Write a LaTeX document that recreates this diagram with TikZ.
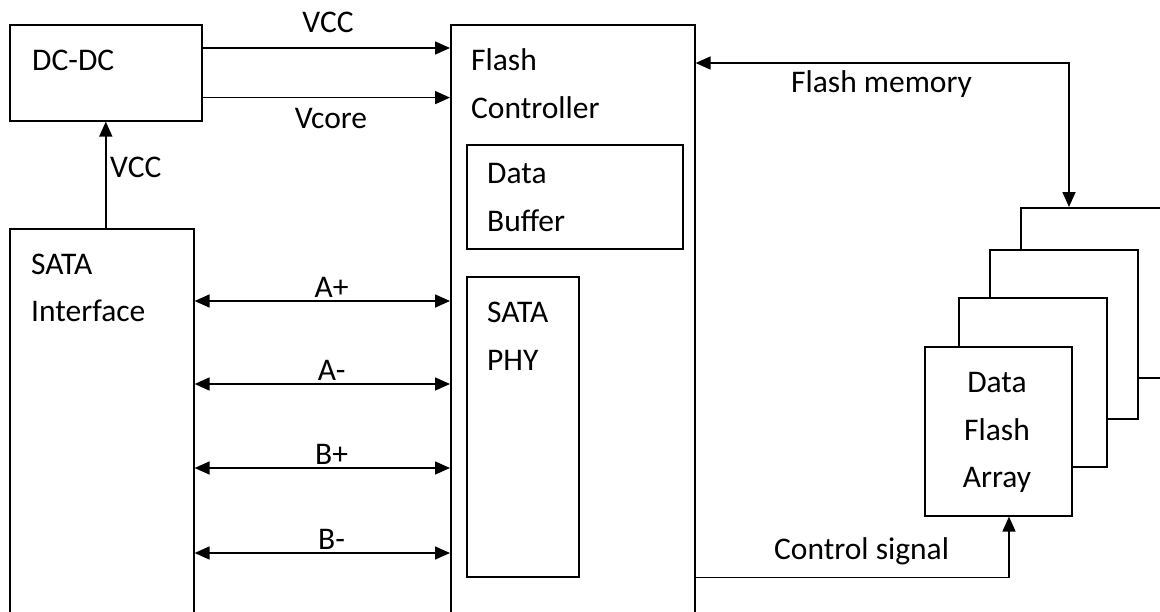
\documentclass[tikz,border=0pt]{standalone}
\usepackage{fontspec}
\setmainfont{Carlito}
\usetikzlibrary{arrows.meta,calc}
\begin{document}
\begin{tikzpicture}[x=1pt,y=-1pt,
  box/.style={draw,line width=1.6pt,fill=white,inner sep=0pt,anchor=north west},
  arr/.style={line width=1.6pt,-{Triangle[length=15pt,width=13pt]}},
  barr/.style={line width=1.6pt,{Triangle[length=15pt,width=13pt]}-{Triangle[length=15pt,width=13pt]}},
  txt/.style={font=\fontsize{31.5}{36}\selectfont,inner sep=0pt,anchor=base west},
  ctxt/.style={font=\fontsize{31.5}{36}\selectfont,inner sep=0pt,anchor=base}]
\clip (0,0) rectangle (1160,611);
\fill[white] (0,0) rectangle (1160,611);
% boxes
\node[box,minimum width=192pt,minimum height=96pt] (dcdc) at (9,24) {};
\node[box,minimum width=184pt,minimum height=402pt] (sata) at (9,228) {};
\node[box,minimum width=244pt,minimum height=606pt] (fc) at (450,24) {};
\node[box,minimum width=216pt,minimum height=104pt] (buf) at (466,144) {};
\node[box,minimum width=112pt,minimum height=300pt] (phy) at (466,276) {};
\node[box,minimum width=147pt,minimum height=170pt] (f4) at (1020,207) {};
\node[box,minimum width=148pt,minimum height=169pt] (f3) at (989,249) {};
\node[box,minimum width=148pt,minimum height=169pt] (f2) at (958,297) {};
\node[box,minimum width=147pt,minimum height=169pt] (f1) at (924,346) {};
% box texts
\node[txt] (tdcdc) at (32,70) {DC-DC};
\node[txt] (tsata1) at (31,274) {SATA};
\node[txt] (tsata2) at (31,321) {Interface};
\node[txt] (tfc1) at (471,70) {Flash};
\node[txt] (tfc2) at (471,118) {Controller};
\node[txt] (tbuf1) at (487,183) {Data};
\node[txt] (tbuf2) at (487,231) {Buffer};
\node[txt] (tphy1) at (487,322) {SATA};
\node[txt] (tphy2) at (487,370) {PHY};
\node[ctxt] (tf1) at (997,392) {Data};
\node[ctxt] (tf2) at (997,440) {Flash};
\node[ctxt] (tf3) at (997,487) {Array};
% power connectors
\draw[arr] ($(dcdc.north east)+(0,24)$) coordinate (p1) -- (p1 -| fc.west);
\draw[arr] ($(dcdc.south east)+(0,-24)$) coordinate (p2) -- (p2 -| fc.west);
\draw[arr] (dcdc.south |- sata.north) -- (dcdc.south);
\node[ctxt] (lvcc1) at (328,32) {VCC};
\node[ctxt] (lvcore) at (331,128) {Vcore};
\node[txt] (lvcc2) at (110,177) {VCC};
% differential lines
\foreach \dy/\lab [count=\i] in {73/A+,156/A-,240/B+,325/B-}{
  \draw[barr] ($(sata.north east)+(0,\dy)$) coordinate (s\i) -- (s\i -| fc.west);
  \node[ctxt] (ld\i) at ($(sata.north east)+(137,\dy-4)$) {\lab};
}
% flash memory bus
\coordinate (fm) at ($(f4.north west)+(49,0)$);
\draw[barr] ($(fc.north east)+(0,39)$) coordinate (m1) -- (m1 -| fm) -- (fm);
\node[txt] (lfm) at (791,92) {Flash memory};
% control signal
\coordinate (cs) at ($(f1.south west)+(85,0)$);
\draw[arr] (fc.east |- phy.south) coordinate (c1) -- (c1 -| cs) -- (cs);
\node[txt] (lcs) at (774,559) {Control signal};
\end{tikzpicture}
\end{document}
